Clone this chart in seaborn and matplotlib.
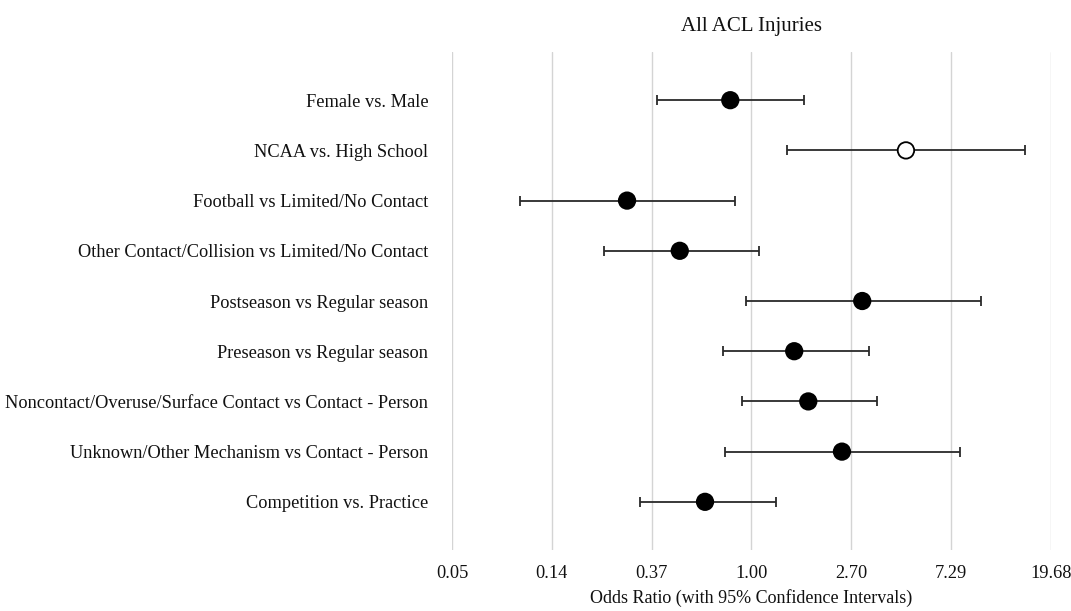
import numpy as np
import pandas as pd
import matplotlib
matplotlib.use('Agg')
import matplotlib.pyplot as plt
import seaborn as sns

# data
comparisons = [
    'Female vs. Male',
    'NCAA vs. High School',
    'Football vs Limited/No Contact',
    'Other Contact/Collision vs Limited/No Contact',
    'Postseason vs Regular season',
    'Preseason vs Regular season',
    'Noncontact/Overuse/Surface Contact vs Contact - Person',
    'Unknown/Other Mechanism vs Contact - Person',
    'Competition vs. Practice',
]
odds_ratio = [0.81, 4.65, 0.29, 0.49, 3.01, 1.53, 1.76, 2.46, 0.63]
ci_low = [0.39, 1.43, 0.10, 0.23, 0.95, 0.75, 0.91, 0.77, 0.33]
ci_high = [1.69, 15.2, 0.85, 1.08, 9.79, 3.22, 3.47, 7.93, 1.28]
open_marker = [False, True, False, False, False, False, False, False, False]

tick_values = [2.7 ** k for k in range(-3, 4)]
tick_labels = ['0.05', '0.14', '0.37', '1.00', '2.70', '7.29', '19.68']

df = pd.DataFrame({
    'comparison': comparisons,
    'or': odds_ratio,
    'lo': ci_low,
    'hi': ci_high,
    'open': open_marker,
})
df['row'] = np.arange(len(df))

sns.set_style('white')
plt.rcParams['font.family'] = ['Liberation Serif', 'DejaVu Serif']

fig = plt.figure(figsize=(10.71, 6.11), dpi=100)
ax = fig.add_axes([0.422, 0.0998, 0.5593, 0.8151])

# confidence intervals
ax.errorbar(df['or'], df['row'],
            xerr=[df['or'] - df['lo'], df['hi'] - df['or']],
            fmt='none', ecolor='#2a2a2a', elinewidth=1.3,
            capsize=3.5, capthick=1.3, zorder=2)

# point estimates
sns.scatterplot(data=df, x='or', y='row', hue='open',
                palette={False: 'black', True: 'white'},
                edgecolor='black', linewidth=1.3, s=140,
                legend=False, ax=ax, zorder=3)

ax.set_xscale('log', base=2.7)
ax.set_xlim(tick_values[0], tick_values[-1])
ax.set_xticks(tick_values)
ax.set_xticklabels(tick_labels)
ax.xaxis.set_minor_locator(matplotlib.ticker.NullLocator())
ax.set_ylim(len(df) - 0.04, -0.96)
ax.set_yticks(df['row'])
ax.set_yticklabels(df['comparison'])

ax.grid(axis='x', color='#d4d4d4', linewidth=1.0)
ax.set_axisbelow(True)
for s in ax.spines.values():
    s.set_visible(False)
ax.tick_params(axis='both', length=0, labelsize=13.2, colors='#111111')
ax.tick_params(axis='y', pad=17)
ax.tick_params(axis='x', pad=11)

ax.set_xlabel('Odds Ratio (with 95% Confidence Intervals)', fontsize=13,
              labelpad=5, color='#111111')
ax.set_ylabel('')
ax.set_title('All ACL Injuries', fontsize=15, pad=15, color='#111111')

fig.savefig('out.png', dpi=100)
